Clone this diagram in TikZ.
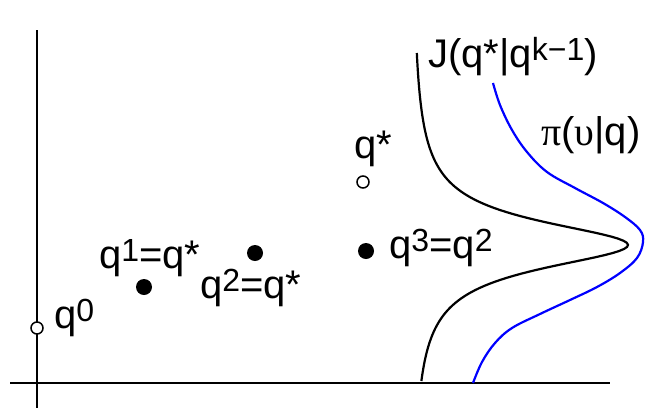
\documentclass[tikz,border=0pt]{standalone}
\usepackage{fontspec}
\setmainfont{Liberation Sans}
\newfontfamily\greekfont{Liberation Serif}
\usetikzlibrary{positioning}
\newcommand{\upidx}[1]{\raisebox{7pt}{\fontsize{32}{32}\selectfont #1}}

\begin{document}
\begin{tikzpicture}[x=1pt, y=-1pt, every node/.style={font=\fontsize{40}{44}\selectfont, inner sep=0pt},
                    fulldot/.style={circle, fill, inner sep=0pt, minimum size=16pt},
                    emptydot/.style={circle, draw, line width=1.5pt, fill=white, inner sep=0pt, minimum size=12pt},
                    axis/.style={line width=2.5pt},
                    curve/.style={line width=2.2pt}]
        \useasboundingbox (0,0) rectangle (655,410);

        % axes
        \draw[axis] (37,30) -- (37,408);
        \draw[axis] (10,383) -- (610,383);

        % curves
        \draw[curve] plot[domain=53:381, samples=160, variable=\t]
          ({412+216/(1+((\t-245)/29)^2)}, \t);
        \draw[curve, blue] plot[smooth, tension=0.6] coordinates {
          (493,83) (500,105) (512,130) (527,152) (547,172) (575,188) (603,203)
          (625,217) (640,230) (643,242) (637,258) (620,273) (597,287) (570,300)
          (540,314) (512,328) (495,343) (482,362) (473,383)};

        % points
        \node[emptydot] (q0) at (37,328) {};
        \node[fulldot]  (q1) at (144,287) {};
        \node[fulldot]  (q2) at (255,253) {};
        \node[emptydot] (qs) at (363,182) {};
        \node[fulldot]  (q3) at (366,251) {};

        % labels
        \node[anchor=base west] (lq0) at (54,328) {q\upidx{0}};
        \node[anchor=base west] (lq1) at (99,268) {q\upidx{1}=q*};
        \node[anchor=base west] (lq2) at (200,298) {q\upidx{2}=q*};
        \node[anchor=base west] (lqs) at (354,158) {q*};
        \node[anchor=base west] (lq3) at (389,258) {q\upidx{3}=q\upidx{2}};
        \node[anchor=base west] (lJ)  at (428,67) {J(q*|q\upidx{k−1})};
        \node[anchor=base west] (lpi) at (541,145) {{\greekfont π}({\greekfont υ}|q)};
      \end{tikzpicture}
\end{document}
